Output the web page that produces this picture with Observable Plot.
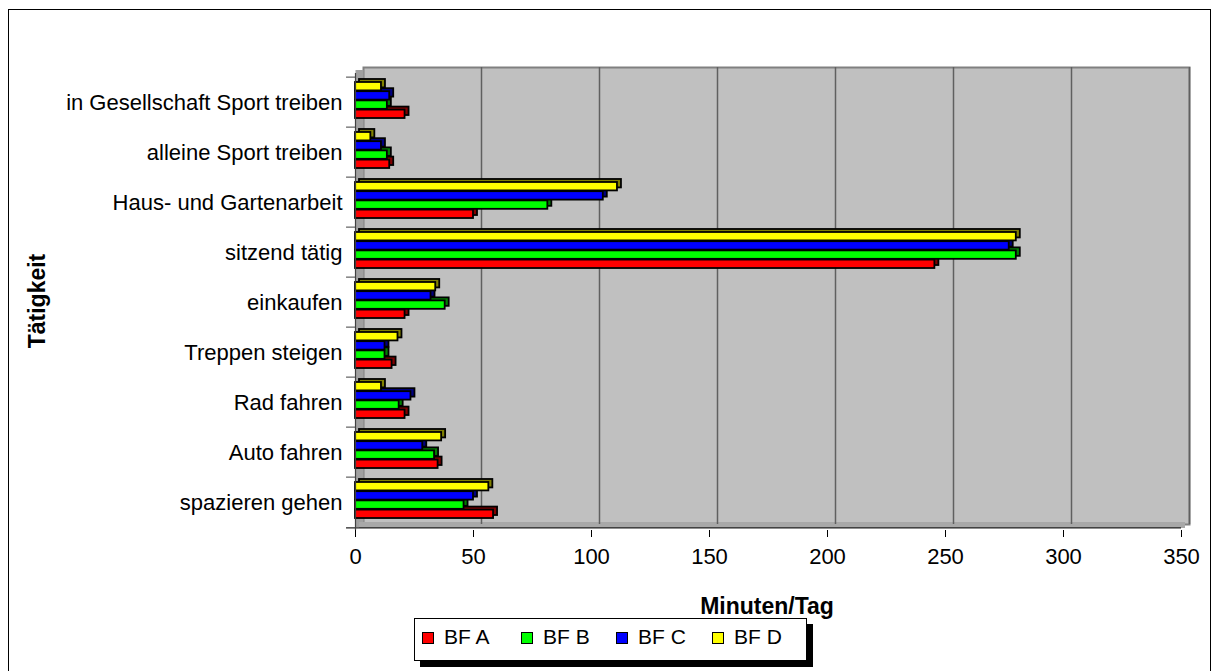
<!DOCTYPE html>
<html>
<head>
<meta charset="utf-8">
<script src="https://cdn.jsdelivr.net/npm/d3@7"></script>
<script src="https://cdn.jsdelivr.net/npm/@observablehq/plot@0.6"></script>
<style>
  body { margin: 0; background: #fff; font-family: "Liberation Sans", Arial, sans-serif; }
  #wrap { position: relative; width: 1214px; height: 671px; overflow: hidden; background: #fff; }
  #border { position: absolute; left: 8px; top: 9px; width: 1203px; height: 700px; border: 1.5px solid #000; box-sizing: border-box; }
  #chart { position: absolute; left: 0; top: 0; }
  .xlabel { position: absolute; left: 767px; top: 592px; transform: translateX(-50%); font-weight: bold; font-size: 23px; line-height: 28px; white-space: nowrap; color: #000; }
  .ylabel { position: absolute; left: 37px; top: 301px; transform: translate(-50%, -50%) rotate(-90deg); font-weight: bold; font-size: 23px; white-space: nowrap; color: #000; }
  #legend { position: absolute; left: 414px; top: 618px; width: 393px; height: 43px; box-sizing: border-box; border: 1px solid #000; background: #fff; box-shadow: 6px 6px 0 #000; }
  .sw { position: absolute; top: 13px; width: 12px; height: 12px; box-sizing: border-box; border: 1.5px solid #000; }
  .lt { position: absolute; top: 6px; font-size: 21px; line-height: 24px; color: #000; white-space: nowrap; }
</style>
</head>
<body>
<div id="wrap">
  <div id="border"></div>
  <div id="chart"></div>
  <div class="ylabel" id="ylab"></div>
  <div class="xlabel" id="xlab"></div>
  <div id="legend"></div>
</div>
<script>
// ---- data (categories listed bottom to top) ----
const categories = [
  "spazieren gehen",
  "Auto fahren",
  "Rad fahren",
  "Treppen steigen",
  "einkaufen",
  "sitzend tätig",
  "Haus- und Gartenarbeit",
  "alleine Sport treiben",
  "in Gesellschaft Sport treiben"
];
const seriesNames = ["BF A", "BF B", "BF C", "BF D"];
const bfA = [58.5, 35, 21, 15.5, 21, 245.5, 50, 14.5, 21];
const bfB = [46, 33.5, 18.5, 12.5, 38, 280, 81.5, 13.5, 13.5];
const bfC = [50, 28.5, 23.5, 12.5, 32, 277, 105, 11, 14.5];
const bfD = [56.5, 36.5, 11, 18, 34, 280, 111, 6.5, 11];
const xTicks = [0, 50, 100, 150, 200, 250, 300, 350];
const xTitle = "Minuten/Tag";
const yTitle = "Tätigkeit";

const seriesValues = [bfA, bfB, bfC, bfD];
const fillColors = ["#ff0000", "#00ff00", "#0000ff", "#ffff00"];
const depthColors = ["#800000", "#008000", "#000080", "#808000"];

const rows = [];
seriesNames.forEach((s, si) => {
  categories.forEach((c, ci) => rows.push({series: s, cat: c, value: seriesValues[si][ci]}));
});

// ---- layout ----
const W = 1214, H = 600, mt = 73, mb = 70, ml = 355, mr = 33;
const bw = (H - mt - mb) / categories.length;
const barH = 9.2;
const shift = -2;
const offsets = [1.5, 0.5, -0.5, -1.5].map(k => k * barH + shift);
const inset = (bw - barH) / 2;
const yDomain = categories.slice().reverse();

const barMarks = [];
seriesNames.forEach((s, i) => {
  const data = rows.filter(d => d.series === s);
  barMarks.push(Plot.barX(data, {
    y: "cat", x1: 0, x2: "value", fill: depthColors[i], stroke: "#000", strokeWidth: 1.8,
    insetTop: inset, insetBottom: inset, dy: offsets[i] - 3, dx: 4
  }));
  barMarks.push(Plot.barX(data, {
    y: "cat", x1: 0, x2: "value", fill: fillColors[i], stroke: "#000", strokeWidth: 1.8,
    insetTop: inset, insetBottom: inset, dy: offsets[i]
  }));
});

const chart = Plot.plot({
  width: W, height: H,
  marginTop: mt, marginBottom: mb, marginLeft: ml, marginRight: mr,
  style: {fontSize: "22px", fontFamily: "'Liberation Sans', Arial, sans-serif", color: "#000", background: "transparent"},
  x: {domain: [0, 350], ticks: xTicks, tickSize: 7, tickPadding: 11, label: null},
  y: {domain: yDomain, padding: 0, tickSize: 0, tickPadding: 13, label: null},
  marks: [
    // back wall
    Plot.frame({fill: "#c0c0c0", stroke: "#808080", strokeWidth: 2, dx: 8, dy: -6}),
    // left wall
    Plot.ruleX([0], {stroke: "#a0a0a0", strokeWidth: 8, dx: 4, dy: -3}),
    // floor
    Plot.ruleY([categories[0]], {y: d => d, x1: 0, x2: 350, dx: 4, dy: bw / 2 - 3, stroke: "#a8a8a8", strokeWidth: 6}),
    // gridlines on back wall
    Plot.ruleX(xTicks.slice(1), {dx: 8, dy: -6, stroke: "#606060", strokeWidth: 1.5}),
    ...barMarks,
    // category boundary ticks
    Plot.ruleY(categories, {y: d => d, x1: -3.8, x2: 0, dy: -bw / 2, stroke: "#404040"}),
    Plot.ruleY([categories[0]], {y: d => d, x1: -3.8, x2: 350, dy: bw / 2, stroke: "#202020", strokeWidth: 1.2}),
    Plot.ruleX([0], {stroke: "#404040", strokeWidth: 1.2})
  ]
});
document.getElementById("chart").appendChild(chart);

document.getElementById("xlab").textContent = xTitle;
document.getElementById("ylab").textContent = yTitle;

const legend = document.getElementById("legend");
const swLeft = [7, 106, 201, 297];
seriesNames.forEach((s, i) => {
  const sw = document.createElement("div");
  sw.className = "sw";
  sw.style.left = swLeft[i] + "px";
  sw.style.background = fillColors[i];
  legend.appendChild(sw);
  const t = document.createElement("div");
  t.className = "lt";
  t.style.left = (swLeft[i] + 22) + "px";
  t.textContent = s;
  legend.appendChild(t);
});
</script>
</body>
</html>
